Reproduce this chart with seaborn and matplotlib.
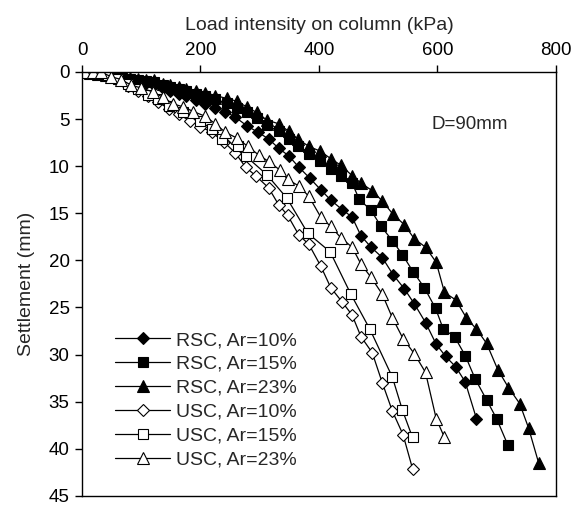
import seaborn as sns
import matplotlib.pyplot as plt
import pandas as pd

# load (kPa) vs settlement (mm)
rsc10_load = [0, 14, 27, 41, 54, 68, 81, 95, 108, 122, 136, 149, 163, 176, 192, 208, 225,
              242, 259, 278, 297, 315, 332, 349, 366, 385, 403, 420, 439, 456, 471, 488,
              507, 525, 544, 561, 580, 598, 614, 631, 647, 666]
rsc10_set = [0, 0.1, 0.2, 0.3, 0.5, 0.6, 0.8, 1.0, 1.2, 1.4, 1.7, 2.0, 2.3, 2.6, 3.0, 3.4, 3.8,
             4.2, 4.8, 5.7, 6.4, 7.1, 8.1, 8.9, 10.1, 11.3, 12.5, 13.6, 14.6, 15.4, 17.4, 18.6,
             19.7, 21.5, 23.0, 24.6, 26.6, 28.9, 30.2, 31.3, 32.9, 36.8]

rsc15_load = [0, 14, 27, 41, 54, 68, 81, 95, 108, 122, 136, 149, 163, 176, 192, 208, 225,
              244, 261, 278, 295, 312, 332, 349, 364, 383, 402, 420, 437, 456, 468, 488,
              505, 524, 541, 559, 578, 597, 610, 629, 647, 664, 683, 700, 719]
rsc15_set = [0, 0.1, 0.2, 0.3, 0.4, 0.6, 0.7, 0.8, 1.0, 1.1, 1.4, 1.6, 1.8, 2.0, 2.3, 2.6, 2.9,
             3.3, 3.8, 4.3, 4.9, 5.6, 6.3, 7.1, 7.9, 8.7, 9.5, 10.3, 11.0, 11.8, 13.5, 14.7,
             16.4, 17.9, 19.4, 21.2, 22.9, 25.1, 27.3, 28.1, 30.1, 32.6, 34.8, 36.8, 39.6]

rsc23_load = [0, 14, 27, 41, 54, 68, 81, 95, 108, 122, 136, 149, 163, 176, 192, 208, 225,
              244, 261, 278, 295, 312, 332, 349, 364, 383, 402, 420, 437, 456, 471, 490,
              507, 525, 544, 561, 580, 598, 612, 631, 649, 666, 683, 702, 720, 739, 754, 771]
rsc23_set = [0, 0.1, 0.2, 0.3, 0.4, 0.5, 0.6, 0.7, 0.8, 0.9, 1.3, 1.4, 1.6, 1.8, 2.0, 2.2, 2.5,
             2.8, 3.1, 3.7, 4.3, 5.1, 5.5, 6.3, 7.1, 7.9, 8.4, 9.2, 9.9, 11.0, 11.8, 12.6,
             13.7, 15.1, 16.2, 17.7, 18.6, 20.2, 23.4, 24.2, 26.1, 27.3, 28.8, 31.6, 33.5,
             35.2, 37.8, 41.5]

usc10_load = [0, 14, 27, 44, 61, 78, 95, 112, 129, 146, 163, 183, 200, 219, 239, 259, 276,
              293, 315, 332, 347, 366, 383, 403, 420, 439, 456, 471, 490, 507, 524, 542, 558]
usc10_set = [0, 0, 0.1, 0.4, 0.9, 1.5, 2.0, 2.6, 3.2, 3.9, 4.5, 5.2, 5.8, 6.4, 7.4, 8.6, 10.1,
             11.0, 12.3, 14.1, 15.2, 17.3, 18.3, 20.6, 22.9, 24.4, 25.8, 28.1, 29.8, 33.0,
             36.0, 38.5, 42.1]

usc15_load = [0, 14, 27, 44, 61, 78, 95, 112, 129, 146, 171, 200, 219, 236, 264, 276, 312,
              346, 381, 419, 454, 486, 524, 541, 558]
usc15_set = [0, 0, 0.1, 0.3, 0.7, 1.3, 1.8, 2.4, 2.9, 3.6, 4.2, 5.2, 6.1, 7.1, 7.9, 8.9, 10.9,
             13.4, 17.1, 19.1, 23.6, 27.3, 32.4, 35.9, 38.8]

usc23_load = [5, 19, 32, 49, 66, 83, 100, 119, 137, 154, 171, 188, 208, 225, 242, 261, 280,
              298, 315, 334, 347, 366, 383, 403, 420, 437, 456, 471, 488, 507, 524, 542,
              561, 580, 598, 612]
usc23_set = [0, 0, 0, 0.5, 0.8, 1.4, 1.7, 2.1, 2.7, 3.4, 3.7, 4.2, 4.7, 5.5, 6.4, 7.0, 7.9,
             8.8, 9.5, 10.4, 11.4, 12.1, 13.2, 15.4, 16.4, 17.6, 18.6, 20.4, 21.8, 23.6,
             26.1, 28.3, 29.9, 31.9, 36.8, 38.8]

series = [
    ("RSC, Ar=10%", rsc10_load, rsc10_set, "D", "black", 6.3),
    ("RSC, Ar=15%", rsc15_load, rsc15_set, "s", "black", 7.3),
    ("RSC, Ar=23%", rsc23_load, rsc23_set, "^", "black", 8.5),
    ("USC, Ar=10%", usc10_load, usc10_set, "D", "white", 6.3),
    ("USC, Ar=15%", usc15_load, usc15_set, "s", "white", 7.3),
    ("USC, Ar=23%", usc23_load, usc23_set, "^", "white", 8.5),
]

sns.set_style("ticks")
plt.rcParams["font.family"] = ["Liberation Sans", "DejaVu Sans"]

fig = plt.figure(figsize=(5.82, 5.07), dpi=100)
ax = fig.add_axes([0.141, 0.022, 0.814, 0.836])

for name, load, sett, mk, face, ms in series:
    df = pd.DataFrame({"load": load, "settlement": sett})
    sns.lineplot(data=df, x="load", y="settlement", ax=ax, sort=False, estimator=None,
                 color="black", linewidth=0.9, marker=mk, markersize=ms,
                 markerfacecolor=face, markeredgecolor="black", markeredgewidth=0.8,
                 label=name)

ax.set_xlim(0, 800)
ax.set_ylim(45, 0)
ax.set_xticks(range(0, 801, 200))
ax.set_yticks(range(0, 46, 5))
ax.xaxis.tick_top()
ax.xaxis.set_label_position("top")
ax.set_xlabel("Load intensity on column (kPa)", fontsize=14, labelpad=9)
ax.set_ylabel("Settlement (mm)", fontsize=14, labelpad=10)
ax.tick_params(axis="both", labelsize=13.5, direction="out", length=5, width=1,
               colors="black", pad=4)
for sp in ax.spines.values():
    sp.set_visible(True)
    sp.set_color("black")
    sp.set_linewidth(1.0)

ax.text(590, 5.6, "D=90mm", fontsize=13.5, va="center", ha="left")

ax.legend(loc="lower left", bbox_to_anchor=(0.05, 0.042), frameon=False, fontsize=14,
          handlelength=2.8, numpoints=1, labelspacing=0.32, handletextpad=0.3,
          borderpad=0)

plt.savefig("out.png", dpi=100)
